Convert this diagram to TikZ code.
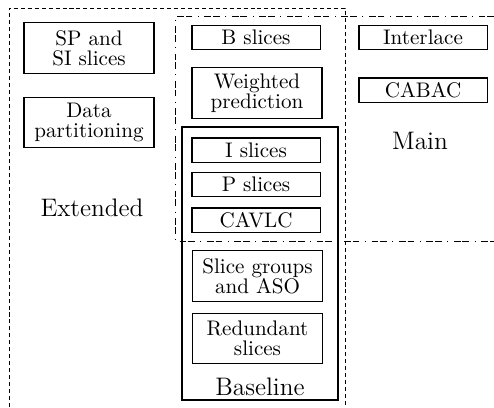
\documentclass[tikz,border=0pt]{standalone}
\begin{document}
\begin{tikzpicture}[x=0.474pt,y=-0.474pt,
  box/.style={draw,line width=0.5pt,align=center,inner sep=0pt,
    font={\fontsize{10}{9.6}\selectfont}},
  onebox/.style={box,minimum width=60.7pt,minimum height=11.4pt},
  twobox/.style={box,minimum width=61.6pt,minimum height=23.9pt},
  grouplabel/.style={font=\large,inner sep=0pt},
  extdash/.style={line width=0.45pt,dash pattern=on 1.9pt off 1.4pt},
  maindash/.style={line width=0.45pt,dash pattern=on 3.2pt off 0.9pt on 3.2pt off 2.6pt on 0.5pt off 2.6pt},
]
\useasboundingbox (0,0) rectangle (494,407);
% Extended region
\draw[extdash] (9,407) -- (9,8) -- (345,8) -- (345,407);
% Main region
\draw[maindash] (494,16) -- (175,16) -- (175,241) -- (494,241);
% Baseline region
\draw[line width=0.5pt] (182,127) rectangle (338,400);

\node[twobox,minimum width=61.6pt] (sp) at (89,48) {SP and\\SI slices};
\node[twobox,minimum width=61.6pt] (dp) at (89,122.5) {Data\\partitioning};
\node[onebox] (bs) at (256,37.5) {B slices};
\node[twobox] (wp) at (257,93) {Weighted\\prediction};
\node[onebox] (is) at (256,150) {I slices};
\node[onebox] (ps) at (256,184.5) {P slices};
\node[onebox] (cavlc) at (256,220) {CAVLC};
\node[twobox,minimum width=61.2pt] (sg) at (257.5,276) {Slice groups\\and ASO};
\node[twobox,minimum width=61.2pt] (rs) at (257.5,338.5) {Redundant\\slices};
\node[onebox] (il) at (423,37.5) {Interlace};
\node[onebox] (cabac) at (423,90) {CABAC};

\node[grouplabel] (mainlbl) at (420,141) {Main};
\node[grouplabel] (extlbl) at (92,208) {Extended};
\node[grouplabel] (baselbl) at (260,387) {Baseline};
\end{tikzpicture}
\end{document}
